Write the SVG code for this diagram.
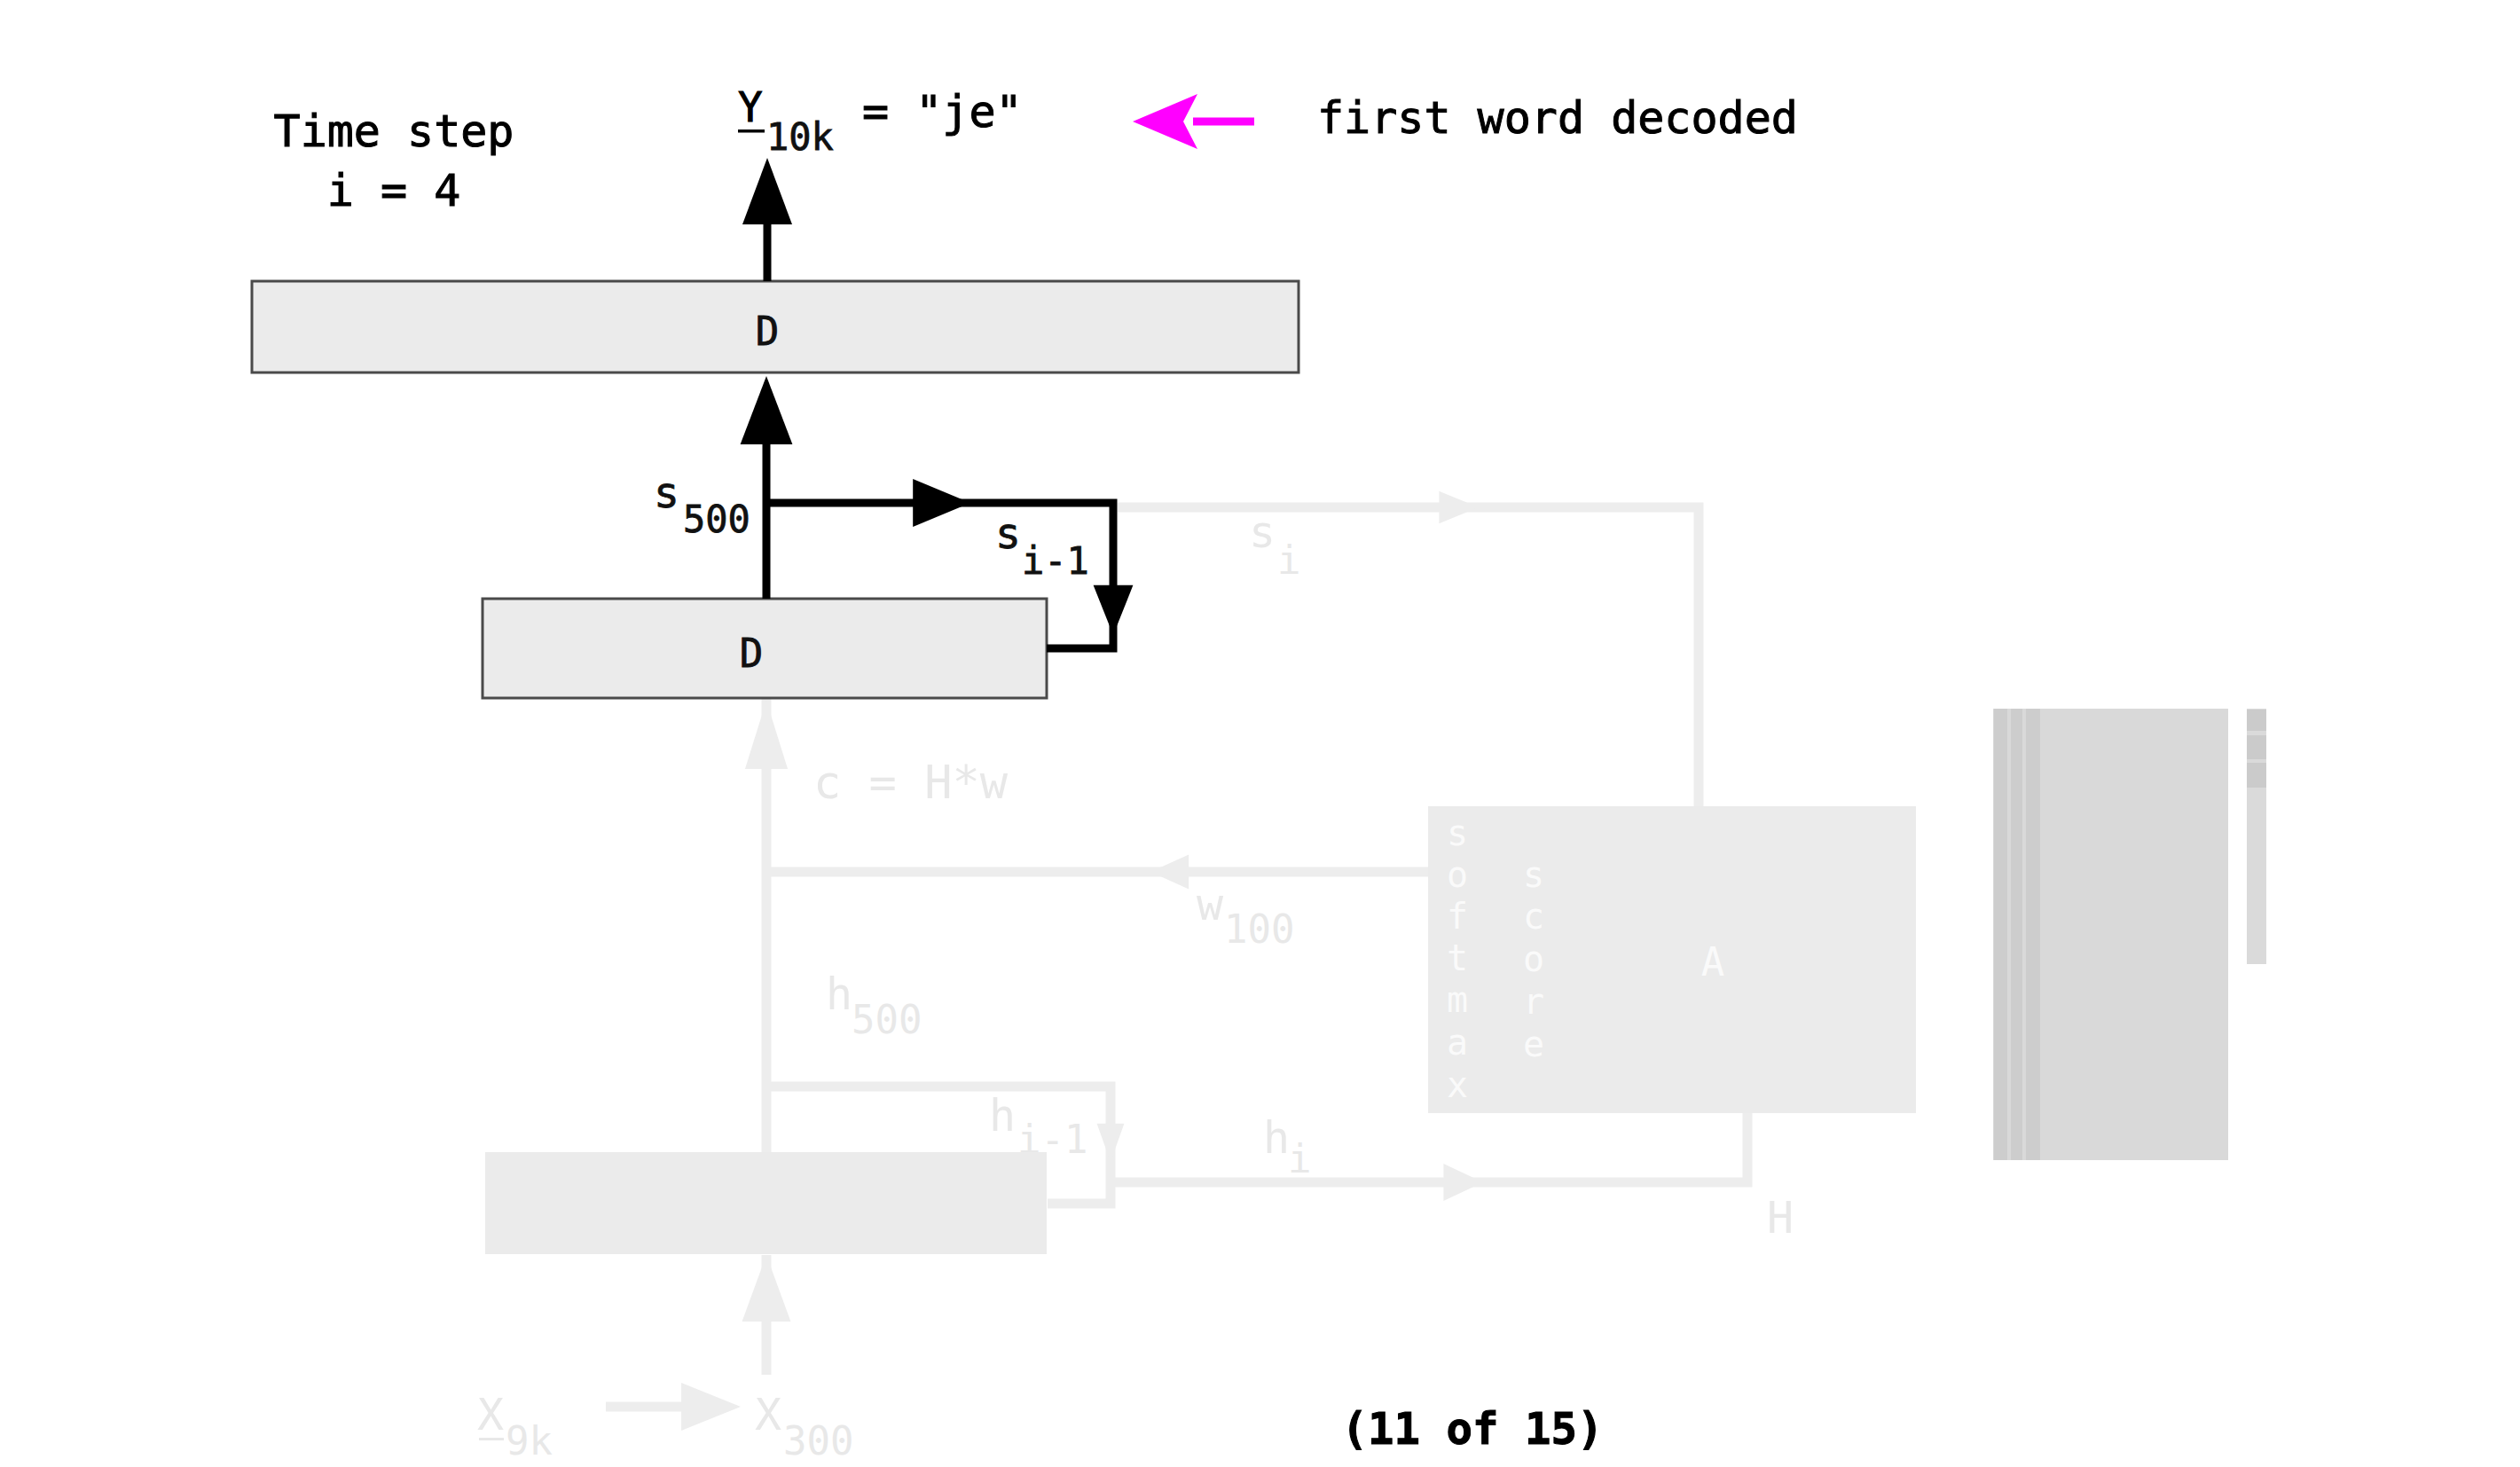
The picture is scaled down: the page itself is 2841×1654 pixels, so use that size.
<svg xmlns="http://www.w3.org/2000/svg" xmlns:xlink="http://www.w3.org/1999/xlink" width="2841" height="1654" viewBox="0 0 2841 1654">
<style>
text{font-family:"DejaVu Sans Mono","Liberation Mono",monospace;}
.t{fill:#000;font-size:50px;stroke:#000;stroke-width:1;}
.lbl{fill:#111;font-size:42px;stroke:#111;stroke-width:0.8;}
.big{font-size:48px;}
.f{fill:#e8e8e8;font-size:50px;}
.fs{fill:#e8e8e8;font-size:44px;}
.w{fill:#fafafa;font-size:40px;text-anchor:middle;}
.box{fill:#ebebeb;stroke:#4a4a4a;stroke-width:3;}
.fbox{fill:#ebebeb;stroke:none;}
.blk{fill:none;stroke:#000;stroke-width:9;stroke-linejoin:miter;}
.fl{fill:none;stroke:#ededed;stroke-width:11;}
.ah{fill:#000;}
.fah{fill:#ededed;}
</style>
<defs>
<path id="head" d="M0,0 L-72,-28 L-72,28 Z"/>
</defs>
<rect width="2841" height="1654" fill="#fff"/>

<g id="faded-connectors">
<path class="fl" d="M1260,572 H1915 V909"/>
<use href="#head" class="fah" transform="translate(1667,572) scale(0.62,0.65)"/>
<path class="fl" d="M864,1299 V788"/>
<use href="#head" class="fah" transform="translate(864,790) rotate(-90) scale(1.07,0.86)"/>
<path class="fl" d="M1611,983 H864"/>
<use href="#head" class="fah" transform="translate(1297,983) rotate(180) scale(0.6,0.7)"/>
<path class="fl" d="M864,1225 H1252 V1357 H1181"/>
<use href="#head" class="fah" transform="translate(1252,1310) rotate(90) scale(0.6,0.55)"/>
<path class="fl" d="M1252,1333 H1970 V1255"/>
<use href="#head" class="fah" transform="translate(1672,1333) scale(0.62,0.75)"/>
<path class="fl" d="M864,1550 V1415"/>
<use href="#head" class="fah" transform="translate(864,1415) rotate(-90) scale(1.04,0.98)"/>
<path class="fl" d="M683,1586 H775" stroke-width="13"/>
<use href="#head" class="fah" transform="translate(835,1586) scale(0.93,0.96)"/>
</g>

<g id="faded-labels">
<text class="f" x="1408" y="617">s</text><text class="fs" x="1440" y="647">i</text>
<text class="f" x="917" y="900" style="font-size:52px">c = H*w</text>
<text class="f" x="1349" y="1037">w</text><text class="fs" x="1380" y="1063">100</text>
<text class="f" x="931" y="1138">h</text><text class="fs" x="960" y="1165">500</text>
<text class="f" x="1115" y="1275">h</text><text class="fs" x="1147" y="1300">i-1</text>
<text class="f" x="1424" y="1300">h</text><text class="fs" x="1452" y="1322">i</text>
<text class="f" x="1992" y="1390">H</text>
<text class="f" x="538" y="1612">X</text><rect x="540" y="1621" width="28" height="3" fill="#e8e8e8"/><text class="fs" x="570" y="1640">9k</text>
<text class="f" x="851" y="1612">X</text><text class="fs" x="883" y="1640">300</text>
</g>

<g id="attention-A">
<rect class="fbox" x="1610" y="909" width="550" height="346"/>
<text class="w" x="1643" y="953">s</text>
<text class="w" x="1643" y="1000">o</text>
<text class="w" x="1643" y="1047">f</text>
<text class="w" x="1643" y="1094">t</text>
<text class="w" x="1643" y="1141">m</text>
<text class="w" x="1643" y="1189">a</text>
<text class="w" x="1643" y="1237">x</text>
<text class="w" x="1729" y="1000">s</text>
<text class="w" x="1729" y="1047">c</text>
<text class="w" x="1729" y="1095">o</text>
<text class="w" x="1729" y="1143">r</text>
<text class="w" x="1729" y="1191">e</text>
<text class="w" x="1931" y="1100" style="font-size:44px">A</text>
</g>

<g id="encoder">
<rect class="fbox" x="547" y="1299" width="633" height="115"/>
</g>

<g id="memory-H">
<rect x="2247" y="799" width="265" height="509" fill="#d9d9d9"/>
<rect x="2248" y="799" width="15" height="509" fill="#cdcdcd"/>
<rect x="2267" y="799" width="13" height="509" fill="#cdcdcd"/>
<rect x="2284" y="799" width="16" height="509" fill="#cdcdcd"/>
<rect x="2533" y="799" width="22" height="288" fill="#dadada"/>
<rect x="2533" y="800" width="22" height="24" fill="#cbcbcb"/>
<rect x="2533" y="829" width="22" height="27" fill="#cbcbcb"/>
<rect x="2533" y="860" width="22" height="28" fill="#cbcbcb"/>
</g>

<g id="decoder-top">
<rect class="box" x="284" y="317" width="1180" height="103"/>
<text class="lbl" x="865" y="389" text-anchor="middle" style="font-size:44px">D</text>
</g>

<g id="decoder-bottom">
<rect class="box" x="544" y="675" width="636" height="112"/>
<text class="lbl" x="847" y="752" text-anchor="middle" style="font-size:44px">D</text>
</g>

<g id="connectors">
<path class="blk" d="M865,317 V250"/>
<use href="#head" class="ah" transform="translate(865,178) rotate(-90) scale(1.04,1)"/>
<path class="blk" d="M864,675 V495"/>
<use href="#head" class="ah" transform="translate(864,424) rotate(-90) scale(1.07,1.05)"/>
<path class="blk" d="M864,567 H1255 V731 H1180"/>
<use href="#head" class="ah" transform="translate(1094,567) scale(0.9,0.96)"/>
<use href="#head" class="ah" transform="translate(1255,716) rotate(90) scale(0.78,0.8)"/>
<path d="M1345,137 H1414" stroke="#f0f" stroke-width="9" fill="none"/>
<path d="M1277,137 L1350,106 L1334,137 L1350,168 Z" fill="#f0f"/>
</g>

<g id="labels">
<text class="t" x="444" y="165" text-anchor="middle">Time step</text>
<text class="t" x="444" y="232" text-anchor="middle">i = 4</text>
<text class="t" x="832" y="137" style="font-size:46px">Y</text>
<rect x="832" y="146" width="30" height="3.5" fill="#000"/>
<text class="lbl" x="864" y="169">10k</text>
<text class="t" x="972" y="143">= "je"</text>
<text class="t" x="1485" y="150">first word decoded</text>
<text class="lbl big" x="737" y="572">s</text><text class="lbl" x="770" y="600">500</text>
<text class="lbl big" x="1122" y="618">s</text><text class="lbl" x="1152" y="647">i-1</text>
<text class="t" x="1660" y="1628" text-anchor="middle" style="font-size:49px;font-weight:bold">(11 of 15)</text>
</g>
</svg>
